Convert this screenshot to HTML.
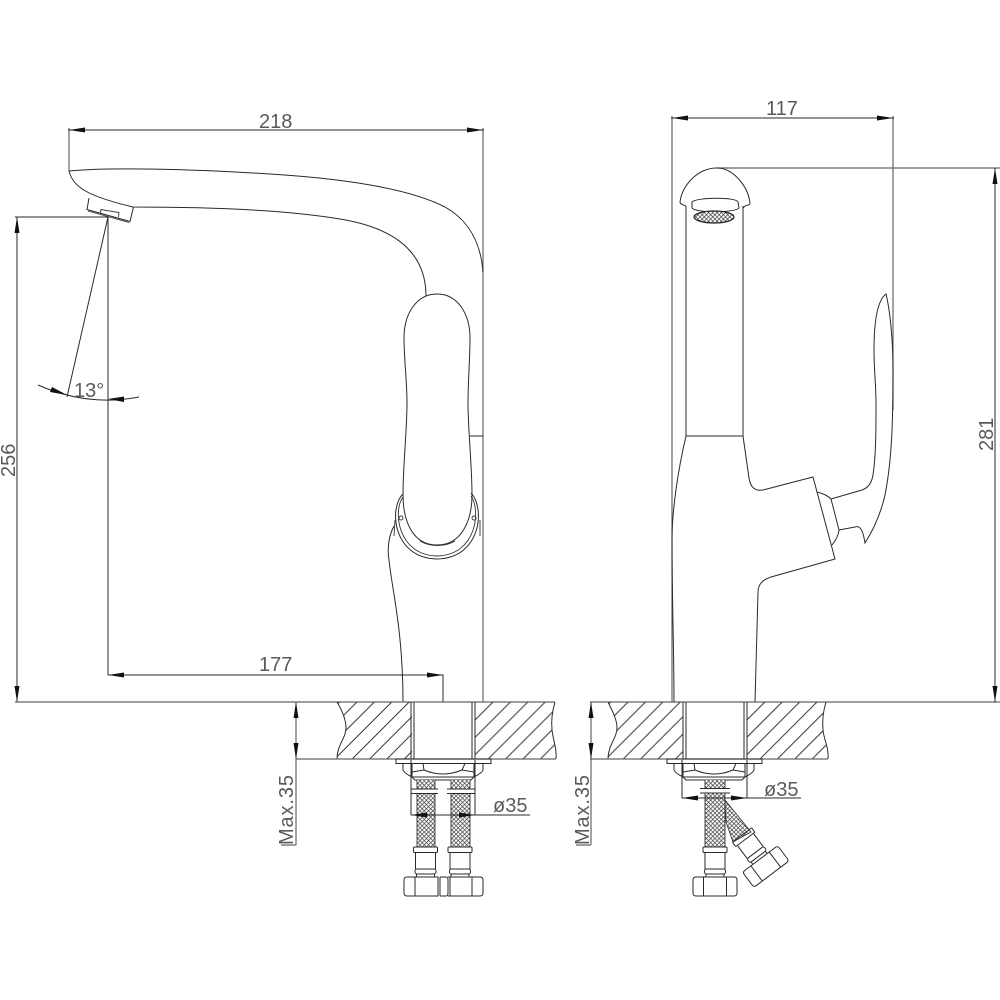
<!DOCTYPE html>
<html><head><meta charset="utf-8"><style>
html,body{margin:0;padding:0;background:#fff}
svg{display:block}
text{font-family:"Liberation Sans",sans-serif;font-size:20px;fill:#5a5a5a}
.l{fill:none;stroke:#2a2a2a;stroke-width:1}
.g{fill:none;stroke:#666;stroke-width:1.2}
.t{fill:none;stroke:#333;stroke-width:.9}
.a{fill:#111;stroke:none}
</style></head><body>
<svg width="1000" height="1000" viewBox="0 0 1000 1000" xmlns="http://www.w3.org/2000/svg">
<defs>
<pattern id="h1" width="12.3" height="12.3" patternUnits="userSpaceOnUse" patternTransform="rotate(45)"><line x1="10.8" y1="0" x2="10.8" y2="12.3" stroke="#333" stroke-width="1"/></pattern>
<pattern id="h2" width="12.3" height="12.3" patternUnits="userSpaceOnUse" patternTransform="rotate(45)"><line x1="8.6" y1="0" x2="8.6" y2="12.3" stroke="#333" stroke-width="1"/></pattern>
<pattern id="h3" width="12.3" height="12.3" patternUnits="userSpaceOnUse" patternTransform="rotate(45)"><line x1="5.7" y1="0" x2="5.7" y2="12.3" stroke="#333" stroke-width="1"/></pattern>
<pattern id="h4" width="12.3" height="12.3" patternUnits="userSpaceOnUse" patternTransform="rotate(45)"><line x1="4" y1="0" x2="4" y2="12.3" stroke="#333" stroke-width="1"/></pattern>
<pattern id="m" width="3" height="3" patternUnits="userSpaceOnUse" patternTransform="rotate(45)"><rect width="3" height="3" fill="#fff"/><path d="M0 0H3M0 0V3" stroke="#333" stroke-width="1.3"/></pattern>
<g id="nut">
<path class="l" d="M-19 -9.5H19Q22 -9.5 22 -6.5V6.5Q22 9.5 19 9.500H-19Q-22 9.500 -22 6.500V-6.500Q-22 -9.500 -19 -9.500Z"/>
<path class="l" d="M-11.500 -9.500V9.500M11.500 -9.500V9.500"/>
</g>
<g id="hoseLow">
<rect class="l" x="-12" y="0" width="24" height="5.500" rx="1"/>
<path class="l" d="M-10 5.500V22M10 5.500V22"/>
<rect class="l" x="-10.500" y="22" width="21" height="5" rx="2"/>
<path class="l" d="M-9 27V30M9 27V30"/>
</g>
<g id="flange">
<path class="l" d="M0 759H95V763.500H0Z"/>
<path class="l" d="M7 763.500V770Q8 773 16 777H78Q86 773 87 770V763.500"/>
<path class="l" d="M16 777H78L75 780H19Z"/>
<path class="l" d="M16 763.500V777M78 763.500V777M27 763.500L28 770Q47 778 66 770L69 763.500M16 772L28 770M78 772L66 770"/>
</g>
</defs>

<!-- LEFT VIEW -->
<path class="g" d="M69 128V171"/>
<path class="g" d="M483 128V702"/>
<path class="l" d="M68 130H484"/>
<path class="a" d="M69 130L85 127.500V132.500Z"/>
<path class="a" d="M483 130L467 127.500V132.500Z"/>
<text x="259" y="128">218</text>

<!-- spout -->
<path class="l" d="M69 171C110 167 190 169 270 174C350 179 410 189 445 207C470 221 481 245 483 272"/>
<path class="l" d="M69 171C73 187 87 196 133 207C200 207 280 209 340 219C395 228 426 252 426 296"/>
<!-- aerator -->
<path class="l" d="M89 198L87 209.500L130 221.500L133.500 207"/>
<path class="t" d="M88 211L129 222.500M100.500 213L101 209.500L119 212.500L118.500 217"/>
<!-- angle -->
<path class="l" d="M15 217H109"/>
<path class="l" d="M108 217V675"/>
<path class="l" d="M108 217L67 397"/>
<path class="l" d="M38 385Q88 407 139 397"/>
<path class="a" d="M67 395L52 387L50 392Z"/>
<path class="a" d="M108 399L124 396.500L124 402Z"/>
<text x="74" y="397">13°</text>
<!-- 256 -->
<path class="l" d="M17 217V702"/>
<path class="a" d="M17 217L14.500 233H19.500Z"/>
<path class="a" d="M17 702L14.500 686H19.500Z"/>
<text transform="translate(15 477) rotate(-90)">256</text>
<!-- 177 -->
<path class="l" d="M108 675H443V702"/>
<path class="a" d="M108 675L124 672.500V677.500Z"/>
<path class="a" d="M443 675L427 672.500V677.500Z"/>
<text x="259" y="671">177</text>

<!-- body left -->
<path class="l" d="M437 294C417 294 404 313 404 338C404 360 407 380 407 403C407 430 403 465 403 495C403 520 412 545 437 545C462 545 472 520 472 495C472 465 468 430 468 403C468 380 470 360 470 338C470 313 457 294 437 294Z"/>
<path class="t" d="M420 541C430 547 445 547 455 541"/>
<path class="l" d="M403 494C389 507 392 558 437 559C482 558 485 507 471 493"/>
<path class="t" d="M403 497C393 510 397 555 437 556C477 555 481 510 471 496"/>
<circle class="t" cx="401" cy="518" r="2"/>
<circle class="t" cx="474" cy="518" r="2"/>
<path class="t" d="M480 520V536M395 520L394 536"/>
<path class="l" d="M394 526C389 535 387 548 389 560C392 590 403 630 403 702"/>
<path class="l" d="M470 436H483"/>

<!-- base line -->
<path class="g" d="M15 702H555"/>
<path class="g" d="M590 702H1000"/>

<!-- left block -->
<path fill="url(#h1)" d="M337 702C343 712 346 720 346 728C346 738 337 745 337 759H412V702Z"/>
<path fill="url(#h2)" d="M475 702H555C552 712 551 720 552 730C553 740 557 748 556 759H475Z"/>
<path class="l" d="M337 702C343 712 346 720 346 728C346 738 337 745 337 759"/>
<path class="l" d="M555 702C552 712 551 720 552 730C553 740 557 748 556 759"/>
<path class="g" d="M296 759H556"/>
<path class="l" d="M411 702V759M414 702V759M472 702V759M475 702V759"/>
<use href="#flange" x="396"/>

<!-- left hoses -->
<rect x="417" y="780" width="18" height="9" fill="url(#m)"/>
<rect x="417" y="793" width="18" height="54" fill="url(#m)"/>
<rect x="451" y="780" width="19" height="9" fill="url(#m)"/>
<rect x="451" y="793" width="19" height="54" fill="url(#m)"/>
<path class="t" d="M417 780V789M435 780V789M417 793V847M435 793V847M451 780V789M470 780V789M451 793V847M470 793V847"/>
<path class="l" d="M411 789H438M411 793.500H438M447 789H475M447 793.500H475"/>
<path class="l" d="M411 760V815M475 760V815"/>
<path class="l" d="M411 815H530"/>
<path class="a" d="M411 815L427 812.500V817.500Z"/>
<path class="a" d="M475 815L459 812.500V817.500Z"/>
<text x="493" y="812">ø35</text>
<use href="#hoseLow" x="425.500" y="847"/>
<use href="#hoseLow" x="460" y="847"/>
<!-- left view nuts -->
<path class="l" d="M407 877H438V896H407Q404 896 404 893V880Q404 877 407 877Z"/>
<path class="l" d="M415 877V896M440 877V896M440 877H446Q448 877 448 880V893Q448 896 446 896H440"/>
<path class="l" d="M448 877H480Q483 877 483 880V893Q483 896 480 896H448M472 877V896M450 877V896"/>

<!-- Max.35 left -->
<path class="g" d="M296 702V845M281 845H296"/>
<path class="a" d="M296 702L293.500 718H298.500Z"/>
<path class="a" d="M296 759L293.500 743H298.500Z"/>
<text transform="translate(293 845) rotate(-90)" textLength="70">Max.35</text>

<!-- RIGHT VIEW -->
<path class="g" d="M672 116V702"/>
<path class="g" d="M893 116V410"/>
<path class="l" d="M671 118H894"/>
<path class="a" d="M672 118L688 115.500V120.500Z"/>
<path class="a" d="M893 118L877 115.500V120.500Z"/>
<text x="766" y="115">117</text>

<!-- 281 -->
<path class="g" d="M717 168H1000"/>
<path class="l" d="M995 168V702"/>
<path class="a" d="M995 168L992.500 184H997.500Z"/>
<path class="a" d="M995 702L992.500 686H997.500Z"/>
<text transform="translate(993 451) rotate(-90)">281</text>

<!-- head -->
<path class="l" d="M680 202C682 186 697 168 717 168C733 168 748 186 750 203C750 205 748 205 745 206L743 208M680 202C680 204 683 205 686 206"/>
<path class="l" d="M692 202C697 197 737 197 738 202L739 208C735 213 695 213 692 208Z"/>
<ellipse cx="714" cy="217" rx="20" ry="6" fill="url(#m)" stroke="#222" stroke-width="1.2"/>
<!-- body right -->
<path class="l" d="M686 206V436M743 206V436M686 436H743"/>
<path class="l" d="M686 436C678 470 672 510 672 540C672 600 674 650 674 702"/>
<path class="l" d="M743 436L749 478Q751 492 763 490L813 477L835 559L771 577Q758 581 758 592L755 702"/>
<path class="l" d="M817 492Q826 494 831 499L839 530Q838 538 832 545"/>
<path class="l" d="M831 499L862 490Q871 487 873 475C876 455 876 430 876 403C876 385 874 370 874 350C874 320 878 300 886 294C890 310 893 340 893 370C893 420 892 460 885 495C880 517 872 532 865 543C863 530 860 525 855 527L839 530"/>

<!-- right block -->
<path fill="url(#h3)" d="M608 702C613 712 617 720 617 728C617 738 608 745 608 759H683V702Z"/>
<path fill="url(#h4)" d="M747 702H826C823 712 822 720 823 730C824 740 829 748 828 759H747Z"/>
<path class="l" d="M608 702C613 712 617 720 617 728C617 738 608 745 608 759"/>
<path class="l" d="M826 702C823 712 822 720 823 730C824 740 829 748 828 759"/>
<path class="g" d="M590 759H828"/>
<path class="l" d="M683 702V759M686 702V759M744 702V759M747 702V759"/>
<use href="#flange" x="667"/>

<!-- right hoses -->
<path fill="url(#m)" stroke="#333" stroke-width=".8" d="M725 800L751 832L733 842L726 822Z"/>
<rect x="705" y="780" width="20" height="9" fill="url(#m)"/>
<rect x="705" y="793" width="20" height="54" fill="url(#m)"/>
<path class="t" d="M705 780V789M725 780V789M705 793V847M725 793V847"/>
<path class="l" d="M700 788.500H730M700 793H730"/>
<path class="l" d="M682 760V798M747 760V798"/>
<path class="l" d="M682 798H801"/>
<path class="a" d="M682 798L698 795.500V800.500Z"/>
<path class="a" d="M747 798L731 795.500V800.500Z"/>
<text x="764" y="796">ø35</text>
<use href="#hoseLow" x="715" y="847"/>
<use href="#nut" x="715" y="886.500"/>
<g transform="translate(742 835) rotate(-37)">
<use href="#hoseLow"/>
<use href="#nut" y="39.500"/>
</g>

<!-- Max.35 right -->
<path class="g" d="M591 702V845M576 845H591"/>
<path class="a" d="M591 702L588.500 718H593.500Z"/>
<path class="a" d="M591 759L588.500 743H593.500Z"/>
<text transform="translate(589 845) rotate(-90)" textLength="70">Max.35</text>
</svg>
</body></html>
